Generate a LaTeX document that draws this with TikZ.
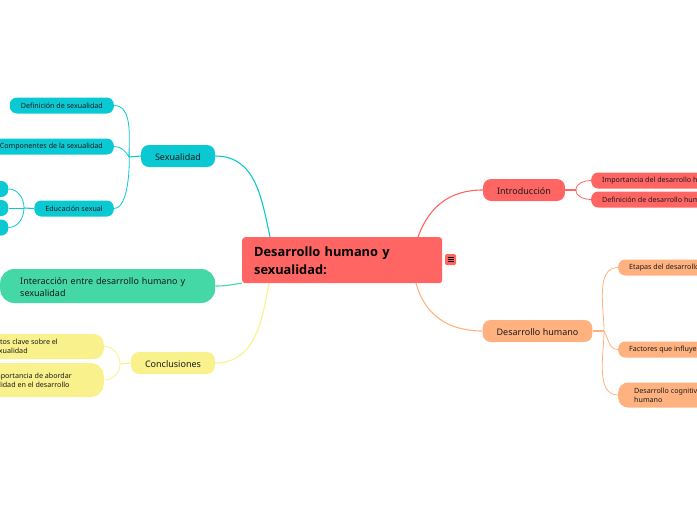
\documentclass[tikz,border=0pt]{standalone}
\usepackage{fontspec}
\setmainfont{Noto Sans}
\newfontfamily\rootfont{Open Sans}
\definecolor{coralred}{HTML}{FF6663}
\definecolor{tealblue}{HTML}{0BC9D3}
\definecolor{mintgreen}{HTML}{43D8A5}
\definecolor{softyellow}{HTML}{F9F18C}
\definecolor{softorange}{HTML}{FFB27F}
\definecolor{inkdark}{HTML}{1A1A1A}
\tikzset{
	rootbox/.style={anchor=north west, fill=coralred, rounded corners=3pt, text width=176pt, inner xsep=12pt, minimum height=46pt, align=left, text=black, font=\rootfont\bfseries\fontsize{12.8}{18}\selectfont},
	mainbox/.style={fill=#1, rounded corners=8pt, minimum height=22pt, inner xsep=14pt, inner ysep=0pt, text height=8.8pt, text depth=0pt, text=inkdark, font=\fontsize{9}{12}\selectfont},
	subbox/.style={fill=#1, rounded corners=7pt, minimum height=16pt, inner ysep=0pt, inner xsep=11pt, text=inkdark, align=left, font=\fontsize{7.15}{9}\selectfont},
	mainlink/.style={draw=#1, line width=1.1pt},
	sublink/.style={draw=#1, line width=0.8pt},
}
\begin{document}
\begin{tikzpicture}[x=1pt,y=-1pt]
	\useasboundingbox (0,0) rectangle (697,520);
	
	% centre
	\node[rootbox] (root) at (242,237) {\rule{0pt}{11.5pt}Desarrollo humano y\\sexualidad:};
	\node[fill=coralred, rounded corners=1.5pt, minimum size=11pt, inner sep=0pt] (menu) at (450.5,259.5) {};
	\draw[line width=0.8pt, black] (447.5,257.3) -- (453.5,257.3) (447.5,259.5) -- (453.5,259.5) (447.5,261.7) -- (453.5,261.7);
	
	\coordinate (rootTeal) at (270,237);
	\coordinate (rootMint) at (242,283);
	\coordinate (rootYellow) at (269,283);
	\coordinate (rootRed) at (418,237);
	\coordinate (rootOrange) at (416,283);
	
	% left side
	\node[mainbox=tealblue] (sexualidad) at (178,156) {Sexualidad};
	\node[subbox=tealblue, anchor=east] (definicion) at (114,105.5) {Definición de sexualidad};
	\node[subbox=tealblue, anchor=east] (componentes) at (114,146.5) {Componentes de la sexualidad};
	\node[subbox=tealblue, anchor=east] (educacion) at (114,208.5) {Educación sexual};
	\node[subbox=tealblue, anchor=east, minimum width=30pt] (eduA) at (8.5,189) {};
	\node[subbox=tealblue, anchor=east, minimum width=30pt] (eduB) at (8.5,208) {};
	\node[subbox=tealblue, anchor=east, minimum width=30pt] (eduC) at (8.5,227.5) {};
	
	\node[anchor=west, fill=mintgreen, rounded corners=14pt, text width=175pt, inner xsep=20pt, minimum height=34pt, align=left, text=inkdark, font=\fontsize{9}{12}\selectfont] (interaccion) at (0,286) {\rule{0pt}{10pt}Interacción entre desarrollo humano y\\sexualidad};
	
	\node[mainbox=softyellow] (conclusiones) at (173,363) {Conclusiones};
	\node[subbox=softyellow, anchor=east, rounded corners=10pt, minimum height=25pt, inner xsep=46pt] (puntos) at (104,346.5) {Puntos clave sobre el\\\hspace*{-3pt}la sexualidad};
	\node[subbox=softyellow, anchor=east, rounded corners=13pt, minimum height=34pt, inner xsep=32pt] (abordar) at (104,380) {La importancia de abordar\\\hspace*{-3pt}sexualidad en el desarrollo};
	
	% right side
	\node[mainbox=coralred] (introduccion) at (524,190) {Introducción};
	\node[subbox=coralred, anchor=west] (importancia) at (591,180.5) {Importancia del desarrollo humano};
	\node[subbox=coralred, anchor=west] (definicionDH) at (591,199.5) {Definición de desarrollo humano};
	
	\node[mainbox=softorange] (desarrollo) at (537.5,331) {Desarrollo humano};
	\node[subbox=softorange, anchor=west] (etapas) at (618,267.5) {Etapas del desarrollo};
	\node[subbox=softorange, anchor=west] (factores) at (618,349.5) {Factores que influyen};
	\node[subbox=softorange, anchor=west, rounded corners=10pt, minimum height=25pt, inner xsep=16pt] (cognitivo) at (618,395) {Desarrollo cognitivo\\humano};
	
	\coordinate (joinSex) at (129,157);
	\coordinate (joinEdu) at (24,208);
	\coordinate (joinCon) at (120,364);
	\coordinate (joinInt) at (576,190);
	\coordinate (joinDes) at (604,331);
	
	% main links
	\draw[mainlink=tealblue] (sexualidad.east) to[out=0,in=102,looseness=1.05] (rootTeal);
	\draw[mainlink=mintgreen] (interaccion.east) to[out=0,in=190] (rootMint);
	\draw[mainlink=softyellow] (conclusiones.east) to[out=0,in=-100,looseness=1.05] (rootYellow);
	\draw[mainlink=coralred] (introduccion.west) to[out=180,in=70,looseness=1.05] (rootRed);
	\draw[mainlink=softorange] (desarrollo.west) to[out=180,in=-75,looseness=1.05] (rootOrange);
	
	% sub links
	\draw[mainlink=tealblue] (sexualidad.west) -- (joinSex);
	\draw[sublink=tealblue] (joinSex) to[out=90,in=0,looseness=0.9] (definicion.east);
	\draw[sublink=tealblue] (joinSex) to[out=120,in=0] (componentes.east);
	\draw[sublink=tealblue] (joinSex) to[out=90,in=0,looseness=0.9] (educacion.east);
	\draw[mainlink=tealblue] (educacion.west) -- (joinEdu);
	\draw[sublink=tealblue] (joinEdu) to[out=90,in=0] (eduA.east);
	\draw[sublink=tealblue] (joinEdu) -- (eduB.east);
	\draw[sublink=tealblue] (joinEdu) to[out=-90,in=0] (eduC.east);
	\draw[mainlink=softyellow] (conclusiones.west) -- (joinCon);
	\draw[sublink=softyellow] (joinCon) to[out=90,in=0] (puntos.east);
	\draw[sublink=softyellow] (joinCon) to[out=-90,in=0] (abordar.east);
	\draw[mainlink=coralred] (introduccion.east) -- (joinInt);
	\draw[sublink=coralred] (joinInt) to[out=90,in=180] (importancia.west);
	\draw[sublink=coralred] (joinInt) to[out=-90,in=180] (definicionDH.west);
	\draw[mainlink=softorange] (desarrollo.east) -- (joinDes);
	\draw[sublink=softorange] (joinDes) to[out=90,in=180,looseness=0.9] (etapas.west);
	\draw[sublink=softorange] (joinDes) to[out=-60,in=180] (factores.west);
	\draw[sublink=softorange] (joinDes) to[out=-90,in=180,looseness=0.9] (cognitivo.west);
\end{tikzpicture}
\end{document}
